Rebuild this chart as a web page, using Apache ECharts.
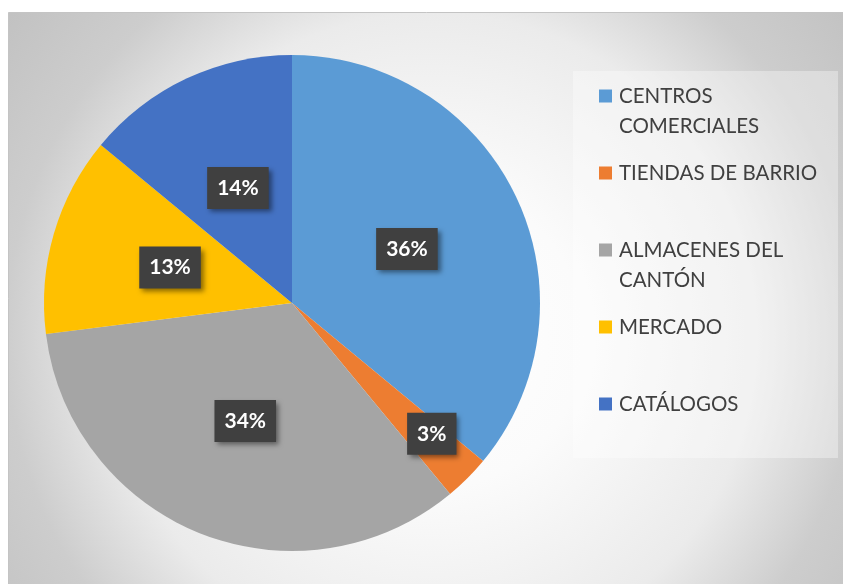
<!DOCTYPE html>
<html>
<head>
<meta charset="utf-8">
<script src="https://cdn.jsdelivr.net/npm/echarts@6/dist/echarts.min.js"></script>
<style>
  html, body { margin: 0; padding: 0; background: #ffffff; }
  #chart { width: 843px; height: 584px; }
</style>
</head>
<body>
<div id="chart"></div>
<script>
// Lugar de compra preferido (porcentaje de encuestados)
const categories = ['CENTROS\nCOMERCIALES', 'TIENDAS DE BARRIO', 'ALMACENES DEL\nCANTÓN', 'MERCADO', 'CATÁLOGOS'];
const values = [36, 3, 34, 13, 14];
const colors = ['#5B9BD5', '#ED7D31', '#A5A5A5', '#FFC000', '#4472C4'];

const chart = echarts.init(document.getElementById('chart'), null, { renderer: 'canvas' });

const pieData = categories.map((name, i) => {
  const item = { name: name, value: values[i], itemStyle: { color: colors[i] } };
  // the thin slice gets its label pushed toward the rim
  if (values[i] < 5) {
    item.label = { offset: [50, 41] };
  }
  return item;
});

// Legend entries are padded to three text lines so every entry has the same
// height and the swatch sits beside the first line of the name.
function legendText(name) {
  return name.indexOf('\n') >= 0 ? '\n' + name : '\n' + name + '\n';
}

const option = {
  animation: false,
  backgroundColor: '#ffffff',
  graphic: [
    {
      type: 'rect',
      z: -10,
      shape: { x: 8.5, y: 12.5, width: 840, height: 580 },
      style: {
        fill: {
          type: 'radial',
          x: 0.505, y: 0.56, r: 0.93,
          colorStops: [
            { offset: 0, color: '#ffffff' },
            { offset: 0.28, color: '#fbfbfb' },
            { offset: 0.6, color: '#ebebeb' },
            { offset: 0.79, color: '#cdcdcd' },
            { offset: 1, color: '#c1c1c1' }
          ]
        },
        stroke: '#c4c4c4',
        lineWidth: 1
      }
    },
    {
      type: 'rect',
      z: -9,
      shape: { x: 573, y: 71, width: 265, height: 387 },
      style: { fill: 'rgba(255,255,255,0.35)' }
    }
  ],
  legend: {
    orient: 'vertical',
    left: 599,
    top: 51,
    padding: 0,
    itemGap: -13,
    itemWidth: 13,
    itemHeight: 13,
    icon: 'rect',
    data: categories,
    formatter: legendText,
    textStyle: {
      fontFamily: 'Lato, "Open Sans", sans-serif',
      fontSize: 20.5,
      color: '#404040',
      lineHeight: 30,
      padding: [0, 0, 0, 2]
    }
  },
  series: [
    {
      type: 'pie',
      center: [292, 303],
      radius: 248,
      startAngle: 90,
      clockwise: true,
      legendHoverLink: false,
      label: {
        show: true,
        position: 'inside',
        rotate: 0,
        formatter: '{d}%',
        color: '#ffffff',
        fontFamily: 'Lato, "Open Sans", sans-serif',
        fontWeight: 'bold',
        fontSize: 21,
        lineHeight: 22,
        backgroundColor: '#404040',
        padding: [10, 10, 10, 10],
        shadowColor: 'rgba(0,0,0,0.45)',
        shadowBlur: 5,
        shadowOffsetX: 3,
        shadowOffsetY: 3
      },
      labelLine: { show: false },
      itemStyle: { borderWidth: 0 },
      data: pieData
    }
  ]
};

chart.setOption(option);
</script>
</body>
</html>
